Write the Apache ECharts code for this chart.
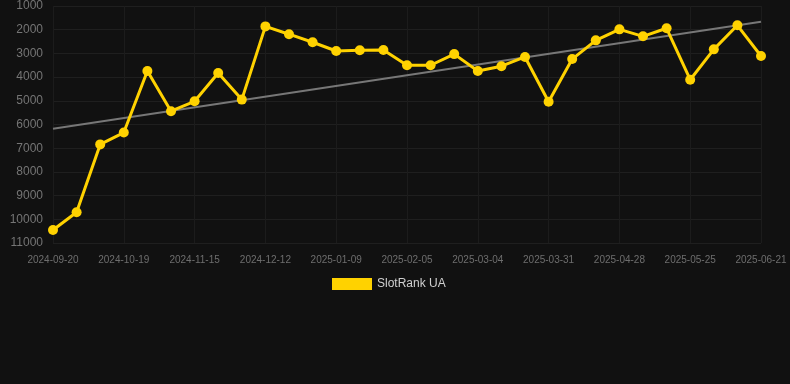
<!DOCTYPE html>
<html><head><meta charset="utf-8">
<script src="https://cdn.jsdelivr.net/npm/echarts@6/dist/echarts.min.js"></script>
<style>html,body{margin:0;padding:0;background:#111111;}#c{width:790px;height:384px;}</style>
</head><body><div id="c"></div>
<script>
const dates = ["2024-09-20","2024-09-29","2024-10-09","2024-10-19","2024-10-28","2024-11-06","2024-11-15","2024-11-24","2024-12-03","2024-12-12","2024-12-21","2024-12-31","2025-01-09","2025-01-18","2025-01-27","2025-02-05","2025-02-14","2025-02-23","2025-03-04","2025-03-13","2025-03-22","2025-03-31","2025-04-09","2025-04-18","2025-04-28","2025-05-07","2025-05-16","2025-05-25","2025-06-03","2025-06-12","2025-06-21"];
const ranks = [10450,9700,6840,6340,3740,5440,5020,3830,4950,1860,2190,2530,2900,2870,2860,3500,3500,3030,3740,3540,3150,5040,3240,2450,1985,2280,1940,4110,2830,1815,3110];
const trendEnds = [6180,1660];
const seriesName = "SlotRank UA";
const yTicks = {min:1000,max:11000,step:1000};

const trend = dates.map((d,i)=> i===0 ? trendEnds[0] : (i===dates.length-1 ? trendEnds[1] : null));

const chart = echarts.init(document.getElementById('c'));
chart.setOption({
  backgroundColor:'#111111',
  animation:false,
  grid:{left:53,right:29,top:6,bottom:141,containLabel:false},
  legend:{
    data:[{name:seriesName,icon:'rect'}],
    top:273,left:327,itemWidth:40,itemHeight:12,itemGap:8,
    textStyle:{color:'#d0d0d0',fontSize:12,fontFamily:'Liberation Sans, Arial, sans-serif'}
  },
  xAxis:{
    type:'category',data:dates,boundaryGap:false,
    axisLine:{show:false},axisTick:{show:false},
    axisLabel:{interval:2,color:'#6e6e6e',fontSize:10,margin:12,fontFamily:'Liberation Sans, Arial, sans-serif'},
    splitLine:{show:true,interval:2,lineStyle:{color:'#1c1c1c',width:1}}
  },
  yAxis:{
    type:'value',inverse:true,min:yTicks.min,max:yTicks.max,interval:yTicks.step,
    axisLine:{show:false},axisTick:{show:false},
    axisLabel:{color:'#757575',fontSize:12,margin:10,fontFamily:'Liberation Sans, Arial, sans-serif',
      formatter:v=>String(v)},
    splitLine:{show:true,lineStyle:{color:'#1f1f1f',width:1}}
  },
  series:[
    {name:'trend',type:'line',data:trend,connectNulls:true,symbol:'none',silent:true,
     lineStyle:{color:'#777777',width:2},z:1},
    {name:seriesName,type:'line',data:ranks,symbol:'circle',symbolSize:10,
     itemStyle:{color:'#FFD200'},lineStyle:{color:'#FFD200',width:3},z:2}
  ]
});
</script></body></html>
